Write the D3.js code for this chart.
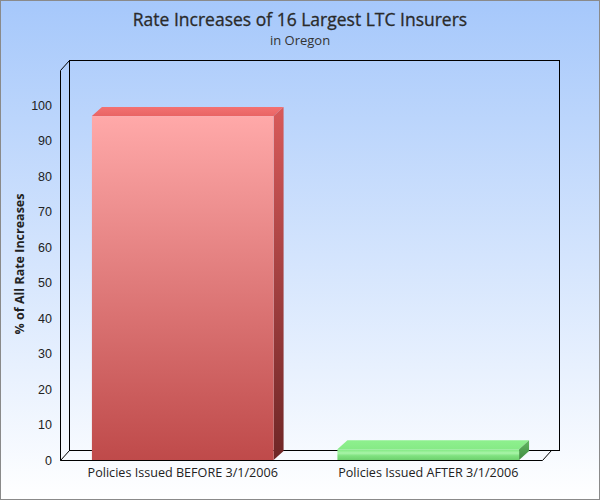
<!DOCTYPE html>
<html>
<head>
<meta charset="utf-8">
<script src="https://cdn.jsdelivr.net/npm/d3@7"></script>
<style>
  body { margin: 0; }
  svg { display: block; }
</style>
</head>
<body>
<script>
// chart data
var categories = ["Policies Issued BEFORE 3/1/2006", "Policies Issued AFTER 3/1/2006"];
var values = [97, 3];
var yTicks = [0, 10, 20, 30, 40, 50, 60, 70, 80, 90, 100];

var W = 600, H = 500;
var margin = {top: 70, right: 49, bottom: 40, left: 60};
var width = W - margin.left - margin.right,
    height = H - margin.top - margin.bottom;
var dx = 9, dy = -10;   // depth of the 3d walls
var bdx = 10, bdy = -9; // depth of the bars

var svg = d3.select("body").append("svg")
    .attr("width", W)
    .attr("height", H);

var defs = svg.append("defs");

var bg = defs.append("linearGradient").attr("id", "bg")
    .attr("x1", 0).attr("y1", 0).attr("x2", 0).attr("y2", 1);
bg.append("stop").attr("offset", "0%").attr("stop-color", "#a6c8fb");
bg.append("stop").attr("offset", "100%").attr("stop-color", "#ffffff");

function vgrad(id, stops) {
  var g = defs.append("linearGradient").attr("id", id)
      .attr("x1", 0).attr("y1", 0).attr("x2", 0).attr("y2", 1);
  stops.forEach(function(s) {
    g.append("stop").attr("offset", s[0]).attr("stop-color", s[1]);
  });
}
vgrad("redFront", [["0%", "#ffa9a9"], ["100%", "#bf4a4a"]]);
vgrad("redSide", [["0%", "#d85a5a"], ["100%", "#6e2626"]]);
vgrad("redTop", [["0%", "#f27272"], ["100%", "#e96464"]]);
vgrad("greenFront", [["0%", "#7ee87e"], ["35%", "#a8f4a8"], ["60%", "#80e280"], ["100%", "#6ed06e"]]);
vgrad("greenSide", [["0%", "#62b862"], ["100%", "#3f8a3f"]]);
vgrad("greenTop", [["0%", "#8ef08e"], ["100%", "#86ea86"]]);

svg.append("rect")
    .attr("x", 0.5).attr("y", 0.5)
    .attr("width", W - 1).attr("height", H - 1)
    .attr("fill", "url(#bg)")
    .attr("stroke", "#8a8a8a");

var g = svg.append("g")
    .attr("transform", "translate(" + margin.left + "," + margin.top + ")");

var x = d3.scaleBand()
    .domain(categories)
    .range([0, width])
    .paddingInner(0.26)
    .paddingOuter(0.13);

var y = d3.scaleLinear()
    .domain([0, 110])
    .range([height, 0]);

// walls
var walls = g.append("g").attr("fill", "none").attr("stroke", "#000").attr("stroke-width", 1);
walls.append("rect")
    .attr("x", dx + 0.5).attr("y", dy + 0.5)
    .attr("width", width - 1).attr("height", height);
walls.append("path")
    .attr("d", "M0.5," + (height + 0.5) + "V0.5L" + (dx + 0.5) + "," + (dy + 0.5) +
               "M0.5," + (height + 0.5) + "L" + (dx + 0.5) + "," + (height + dy + 0.5) +
               "M0.5," + (height + 0.5) + "H" + (width - dx + 0.5) +
               "L" + (width + 0.5) + "," + (height + dy + 0.5));

// bars
var colors = [["redFront", "redSide", "redTop"], ["greenFront", "greenSide", "greenTop"]];
var bars = g.selectAll(".bar")
    .data(values)
    .enter().append("g")
    .attr("class", "bar");

bars.append("path")
    .attr("fill", function(d, i) { return "url(#" + colors[i][2] + ")"; })
    .attr("d", function(d, i) {
      var x0 = x(categories[i]), x1 = x0 + x.bandwidth(), yt = y(d);
      return "M" + x0 + "," + yt + "L" + (x0 + bdx) + "," + (yt + bdy) +
             "H" + (x1 + bdx) + "L" + x1 + "," + yt + "Z";
    });
bars.append("path")
    .attr("fill", function(d, i) { return "url(#" + colors[i][1] + ")"; })
    .attr("d", function(d, i) {
      var x1 = x(categories[i]) + x.bandwidth(), yt = y(d), yb = y(0);
      return "M" + x1 + "," + yt + "L" + (x1 + bdx) + "," + (yt + bdy) +
             "V" + (yb + bdy) + "L" + x1 + "," + yb + "Z";
    });
bars.append("rect")
    .attr("fill", function(d, i) { return "url(#" + colors[i][0] + ")"; })
    .attr("x", function(d, i) { return x(categories[i]); })
    .attr("y", function(d) { return y(d); })
    .attr("width", x.bandwidth())
    .attr("height", function(d) { return y(0) - y(d); });

// axes
var yAxis = g.append("g")
    .call(d3.axisLeft(y).tickValues(yTicks).tickSize(0).tickPadding(8));
yAxis.select(".domain").remove();
yAxis.selectAll("text")
    .attr("font-family", "Liberation Sans, Arial, sans-serif")
    .attr("font-size", 12.5)
    .attr("fill", "#222");

var xAxis = g.append("g")
    .attr("transform", "translate(0," + height + ")")
    .call(d3.axisBottom(x).tickSize(0).tickPadding(8));
xAxis.select(".domain").remove();
xAxis.selectAll("text")
    .attr("font-family", "Open Sans, sans-serif")
    .attr("font-size", 12.6)
    .attr("fill", "#222");

// titles
svg.append("text")
    .attr("x", W / 2).attr("y", 26)
    .attr("text-anchor", "middle")
    .attr("font-family", "Open Sans, sans-serif")
    .attr("font-size", 17.5)
    .attr("fill", "#2a2a2a")
    .attr("stroke", "#2a2a2a")
    .attr("stroke-width", 0.3)
    .text("Rate Increases of 16 Largest LTC Insurers");

svg.append("text")
    .attr("x", W / 2).attr("y", 45)
    .attr("text-anchor", "middle")
    .attr("font-family", "Open Sans, sans-serif")
    .attr("font-size", 13)
    .attr("fill", "#333")
    .text("in Oregon");

svg.append("text")
    .attr("transform", "translate(24,264) rotate(-90)")
    .attr("text-anchor", "middle")
    .attr("font-family", "Open Sans, sans-serif")
    .attr("font-size", 12.5)
    .attr("font-weight", "bold")
    .attr("fill", "#222")
    .text("% of All Rate Increases");
</script>
</body>
</html>
